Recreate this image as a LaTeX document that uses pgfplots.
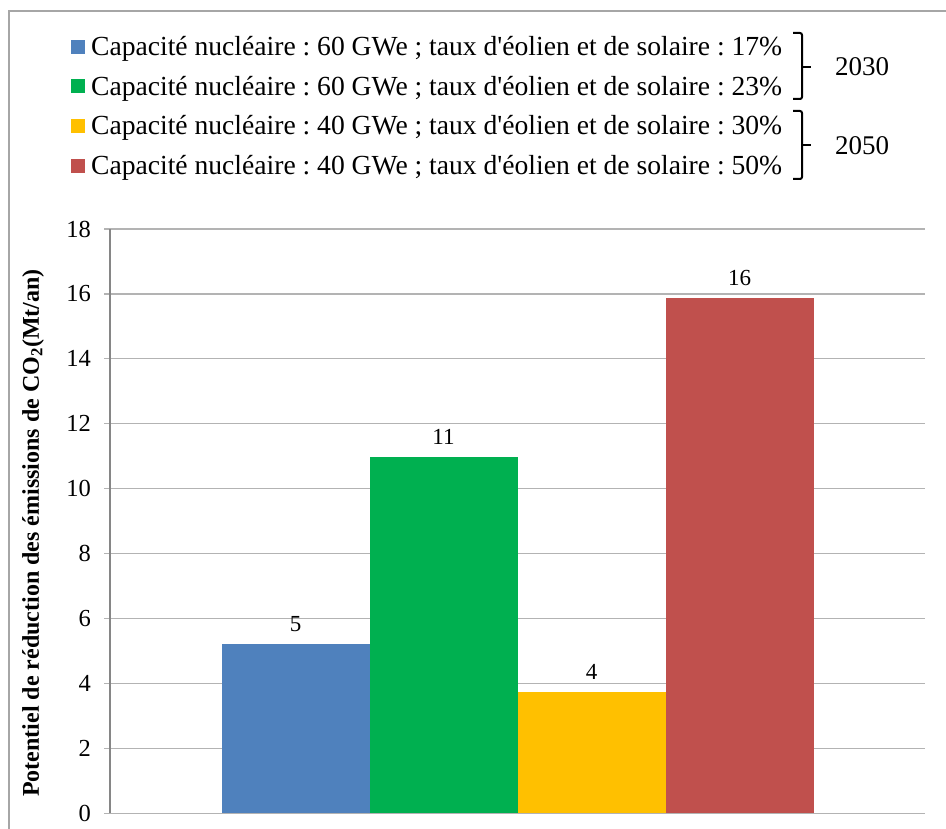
\documentclass[border=0pt]{standalone}
\usepackage{pgfplots}
\pgfplotsset{compat=1.18}
\usepackage{fontspec}
\setmainfont{Liberation Serif}
\frenchspacing
\definecolor{cblue}{HTML}{4F81BD}
\definecolor{cgreen}{HTML}{00B050}
\definecolor{cyellow}{HTML}{FFC000}
\definecolor{cred}{HTML}{C0504D}
\definecolor{gridgray}{HTML}{B3B3B3}
\definecolor{axisgray}{HTML}{868686}
\definecolor{framegray}{HTML}{A6A6A6}
\begin{document}
\begin{tikzpicture}[x=1pt,y=1pt]
\path[use as bounding box] (0,0) rectangle (946,829);
\draw[framegray, line width=1.5pt] (9,0) -- (9,818) -- (946,818);
\begin{axis}[
  at={(110pt,15.7pt)}, anchor=south west,
  scale only axis, width=815pt, height=584.3pt,
  xmin=-1, xmax=1, ymin=0, ymax=18,
  ybar=0pt, bar width=148pt,
  ytick={0,2,...,18}, xtick=\empty,
  ymajorgrids, grid style={gridgray, line width=1.3pt},
  axis x line=none, axis y line=left,
  axis line style={-},
  y axis line style={axisgray, line width=1.3pt},
  tick align=outside, major tick length=6pt,
  ytick style={gridgray, line width=1.3pt},
  /pgf/number format/assume math mode=true,
  yticklabel style={font=\fontsize{24.5}{28}\selectfont, inner sep=0pt, xshift=-13pt},
  ylabel={Potentiel de réduction des émissions de CO\textsubscript{2}(Mt/an)},
  ylabel style={font=\fontsize{24}{28}\selectfont\bfseries, at={(axis description cs:-0.0945,0.4797)}, anchor=center, inner sep=0pt},
  nodes near coords={\pgfmathprintnumber[fixed,precision=0]{\pgfplotspointmeta}},
  nodes near coords style={font=\fontsize{23}{26}\selectfont, anchor=south, inner sep=0pt, yshift=12pt, text=black},
  legend style={at={(axis description cs:-0.0479,1.3300)}, anchor=north west, draw=none, fill=none,
    inner sep=0pt, row sep=19pt, column sep=6pt, font=\fontsize{27.6}{30}\selectfont,
    nodes={inner sep=0pt}},
  legend cell align=left,
  legend image code/.code={\fill[#1] (0pt,-7pt) rectangle (14pt,7pt);},
]
\addplot[fill=cblue, draw=none] coordinates {(0,5.22)};
\addlegendentry{Capacité nucléaire : 60 GWe ; taux d\textquotesingle éolien et de solaire : 17\%}
\addplot[fill=cgreen, draw=none] coordinates {(0,10.98)};
\addlegendentry{Capacité nucléaire : 60 GWe ; taux d\textquotesingle éolien et de solaire : 23\%}
\addplot[fill=cyellow, draw=none] coordinates {(0,3.74)};
\addlegendentry{Capacité nucléaire : 40 GWe ; taux d\textquotesingle éolien et de solaire : 30\%}
\addplot[fill=cred, draw=none] coordinates {(0,15.88)};
\addlegendentry{Capacité nucléaire : 40 GWe ; taux d\textquotesingle éolien et de solaire : 50\%}
\end{axis}
\draw[black, line width=2pt, rounded corners=2pt] (793,796) -- (802,796) -- (802,730) -- (793,730);
\draw[black, line width=2pt] (802,762) -- (811,762);
\draw[black, line width=2pt, rounded corners=2pt] (793,718) -- (802,718) -- (802,650) -- (793,650);
\draw[black, line width=2pt] (802,684) -- (811,684);
\node[font=\fontsize{27}{30}\selectfont, anchor=center] at (862,762) {2030};
\node[font=\fontsize{27}{30}\selectfont, anchor=center] at (862,683) {2050};
\end{tikzpicture}
\end{document}
